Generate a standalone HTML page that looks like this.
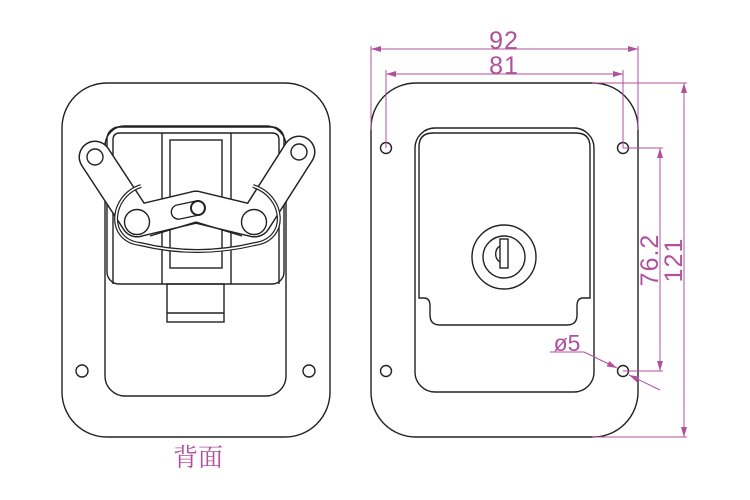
<!DOCTYPE html>
<html><head><meta charset="utf-8"><style>
html,body{margin:0;padding:0;background:#fff;width:750px;height:500px;overflow:hidden}
svg{display:block}
text{font-family:"Liberation Sans","Noto Sans CJK SC",sans-serif;fill:#b0509f}
</style></head><body>
<svg width="750" height="500" viewBox="0 0 750 500" xmlns="http://www.w3.org/2000/svg">
<defs>
<marker id="a" viewBox="0 0 10 6" refX="10" refY="3" markerWidth="11" markerHeight="6" orient="auto-start-reverse" markerUnits="userSpaceOnUse">
<path d="M0,0 L10,3 L0,6 z" fill="#b0509f"/></marker>
</defs>
<g fill="none" stroke="#222" stroke-width="1.4">
<rect x="62" y="83" width="268" height="354" rx="45"/>
<rect x="105" y="126" width="181" height="270" rx="20"/>
<circle cx="82" cy="371" r="6"/><circle cx="309" cy="371" r="6"/>
<rect x="107" y="127" width="177" height="157" rx="12"/>
<path d="M113,284 V140 Q113,133 120,133 H272 Q279,133 279,140 V284"/>
<line x1="162" y1="133" x2="162" y2="284"/><line x1="231" y1="133" x2="231" y2="284"/>
<rect x="170" y="140" width="52" height="128"/>
<rect x="167" y="284" width="57" height="38"/><line x1="167" y1="313" x2="224" y2="313"/>
</g>
<g fill="none" stroke-linecap="round">
<g stroke="#222" stroke-width="33">
<path d="M95,157 L137,221"/><path d="M299,152 L255,221"/>
<path d="M137,221 L196,207"/><path d="M196,207 L254,221"/>
</g>
<g stroke="#fff" stroke-width="30">
<path d="M95,157 L137,221"/><path d="M299,152 L255,221"/>
<path d="M137,221 L196,207"/><path d="M196,207 L254,221"/>
</g>
</g>
<g fill="none" stroke="#222" stroke-width="1.4">
<path d="M150,236 L196,222 M242,236 L196,222"/>
<circle cx="95" cy="157" r="8"/><circle cx="299" cy="152" r="8"/>
<circle cx="137" cy="222" r="12.5"/><circle cx="254" cy="222" r="12.5"/>
<path d="M177,205 L196,201 A7,7 0 0 1 199,215 L180,219 A7,7 0 0 1 177,205 z"/>
<circle cx="198" cy="208" r="7" stroke-width="2"/>
<path d="M141,186 C110,196 106,240 140,244 Q197,258 255,244 C289,239 285,196 253,186" stroke-width="4"/>
<path d="M141,186 C110,196 106,240 140,244 Q197,258 255,244 C289,239 285,196 253,186" stroke="#fff" stroke-width="1.6"/>
<rect x="371" y="83" width="267" height="354" rx="45"/>
<rect x="415" y="128" width="179" height="264" rx="20"/>
<path d="M419,298 V147 Q419,133 433,133 H576 Q590,133 590,147 V298 H583 Q577,298 577,306 V315 Q577,325 567,325 H440 Q430,325 430,315 V306 Q430,298 424,298 Z"/>
<circle cx="386" cy="148" r="5.5"/><circle cx="623" cy="148" r="5.5"/>
<circle cx="386" cy="371" r="5.5"/><circle cx="623" cy="371" r="5.5"/>
<circle cx="504" cy="257" r="32"/><circle cx="504" cy="257" r="21"/>
<rect x="500" y="239" width="8" height="29"/>
<path d="M500,246 A8,9 0 0 0 500,262"/>
</g>
<g stroke="#b0509f" stroke-width="1" fill="none">
<line x1="371" y1="46" x2="371" y2="130"/><line x1="638" y1="46" x2="638" y2="130"/>
<line x1="371" y1="49" x2="638" y2="49" marker-start="url(#a)" marker-end="url(#a)"/>
<line x1="386" y1="70" x2="386" y2="148"/><line x1="623" y1="70" x2="623" y2="148"/>
<line x1="386" y1="74" x2="623" y2="74" marker-start="url(#a)" marker-end="url(#a)"/>
<line x1="623" y1="148" x2="663" y2="148"/><line x1="623" y1="371" x2="663" y2="371"/>
<line x1="660" y1="148" x2="660" y2="371" marker-start="url(#a)" marker-end="url(#a)"/>
<line x1="592" y1="83" x2="687" y2="83"/><line x1="592" y1="437" x2="687" y2="437"/>
<line x1="684" y1="83" x2="684" y2="437" marker-start="url(#a)" marker-end="url(#a)"/>
<line x1="550" y1="352" x2="584" y2="352"/>
<line x1="584" y1="352" x2="617" y2="368" marker-end="url(#a)"/>
<line x1="660" y1="390" x2="629" y2="375" marker-end="url(#a)"/>
</g>
<text x="504" y="49" font-size="25" text-anchor="middle" letter-spacing="1">92</text>
<text x="504" y="74" font-size="25" text-anchor="middle" letter-spacing="1">81</text>
<text x="567" y="351" font-size="23" text-anchor="middle">ø5</text>
<text transform="translate(658,260) rotate(-90)" font-size="25" text-anchor="middle" letter-spacing="1">76.2</text>
<text transform="translate(682,260) rotate(-90)" font-size="25" text-anchor="middle" letter-spacing="1">121</text>
<text x="198" y="466" font-size="25" text-anchor="middle" style="font-family:'Noto Serif CJK SC','Noto Sans CJK SC',serif">背面</text>
</svg>
</body></html>
